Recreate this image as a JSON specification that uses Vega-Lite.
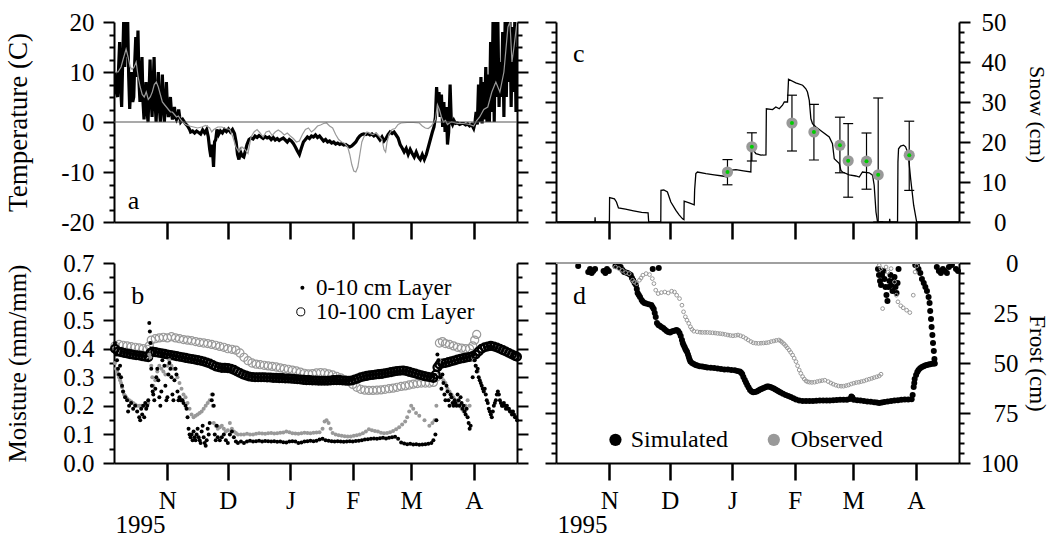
{
"$schema": "https://vega.github.io/schema/vega-lite/v6.json",
"background": "white",
"padding": {"left": 3, "top": 10, "right": 14, "bottom": 6},
"config": {
  "view": {"stroke": null},
  "point": {"opacity": 1},
  "tick": {"opacity": 1},
  "axis": {"grid": false, "domainColor": "black", "domainWidth": 2, "tickColor": "black", "tickWidth": 2,
    "labelFont": "Liberation Serif", "labelFontSize": 25, "labelColor": "black",
    "titleFont": "Liberation Serif", "titleFontWeight": "normal", "titleColor": "black",
    "labelOverlap": false, "labelFlush": false, "labelBound": false}
},
"datasets": {
"tempSim": [
{"d":5,"v":10},{"d":5.6,"v":6},{"d":6.3,"v":5},{"d":6.8,"v":11},{"d":7.3,"v":16},{"d":7.8,"v":7},{"d":8.3,"v":3},{"d":8.8,"v":12},{"d":9.3,"v":20},{"d":9.8,"v":11},
{"d":10.3,"v":20},{"d":10.8,"v":13},{"d":11.3,"v":20},{"d":11.8,"v":9},{"d":12.3,"v":2.6},{"d":12.8,"v":7},{"d":13.3,"v":10},{"d":13.8,"v":4},{"d":14.3,"v":5},{"d":14.8,"v":12},
{"d":15.3,"v":17},{"d":15.8,"v":9},{"d":16.4,"v":18.3},{"d":16.9,"v":8},{"d":17.4,"v":4},{"d":17.9,"v":9},{"d":18.4,"v":13},{"d":18.9,"v":4},{"d":19.4,"v":0.5},{"d":19.9,"v":5},
{"d":20.4,"v":8},{"d":20.9,"v":2},{"d":21.4,"v":0},{"d":21.9,"v":6},{"d":22.4,"v":12.5},{"d":22.9,"v":5},{"d":23.4,"v":1},{"d":23.9,"v":7},{"d":24.4,"v":13},{"d":24.9,"v":4},
{"d":25.4,"v":0},{"d":25.9,"v":5},{"d":26.5,"v":10},{"d":27,"v":3},{"d":27.5,"v":0},{"d":28,"v":4},{"d":28.5,"v":9.5},{"d":29,"v":3},{"d":29.5,"v":0},{"d":30,"v":4},
{"d":30.5,"v":8},{"d":31,"v":3},{"d":31.5,"v":1},{"d":32,"v":2.5},{"d":32.5,"v":5},{"d":33,"v":2},{"d":33.5,"v":0.5},{"d":34,"v":1.5},{"d":34.5,"v":3},{"d":35,"v":1},
{"d":35.5,"v":0.5},{"d":36,"v":1},{"d":36.6,"v":2.5},{"d":37.1,"v":1},{"d":37.6,"v":0},{"d":38.6,"v":0.5},{"d":39.9,"v":-0.3},{"d":41,"v":-0.8},{"d":42,"v":-1.5},{"d":42.5,"v":-2},
{"d":43.5,"v":-1.8},{"d":44.5,"v":-2.2},{"d":45.5,"v":-1.8},{"d":46.5,"v":-2.1},{"d":47.5,"v":-2.4},{"d":48.5,"v":-1.6},{"d":49.5,"v":-2.2},{"d":50.5,"v":-1.5},{"d":51.3,"v":-3},{"d":52,"v":-5.5},
{"d":52.6,"v":-7},{"d":53.2,"v":-4.5},{"d":53.9,"v":-9},{"d":54.4,"v":-4},{"d":55,"v":-3.5},{"d":55.6,"v":-1.5},{"d":56.4,"v":-2.5},{"d":57.3,"v":-1.8},{"d":58.3,"v":-2.2},{"d":59.3,"v":-1.5},
{"d":60.3,"v":-1.9},{"d":61.3,"v":-1.4},{"d":62.3,"v":-2},{"d":63.3,"v":-1.5},{"d":64.3,"v":-2.3},{"d":65.1,"v":-4},{"d":65.8,"v":-6.5},{"d":66.5,"v":-7.5},{"d":67.3,"v":-6},{"d":68.1,"v":-6.8},
{"d":68.9,"v":-7},{"d":69.7,"v":-5.8},{"d":70.5,"v":-4.5},{"d":71.5,"v":-3.5},{"d":72.5,"v":-3.2},{"d":73.5,"v":-3.4},{"d":74.5,"v":-2.8},{"d":75.5,"v":-3.1},{"d":76.5,"v":-2.7},{"d":77.5,"v":-3},
{"d":78.5,"v":-3.3},{"d":79.5,"v":-2.9},{"d":80.5,"v":-3.2},{"d":81.5,"v":-3},{"d":82.5,"v":-3.5},{"d":83.5,"v":-3.1},{"d":84.5,"v":-3.6},{"d":85.5,"v":-3.3},{"d":86.5,"v":-3.7},{"d":87.5,"v":-3.4},
{"d":88.5,"v":-3.2},{"d":89.5,"v":-3.6},{"d":90.5,"v":-4},{"d":91.5,"v":-3.5},{"d":92.5,"v":-3.8},{"d":93.5,"v":-4.3},{"d":94.5,"v":-5},{"d":95.5,"v":-5.8},{"d":96.5,"v":-6.5},{"d":97.5,"v":-5.2},
{"d":98.5,"v":-4},{"d":99.5,"v":-3.5},{"d":100.5,"v":-3},{"d":101.5,"v":-3.3},{"d":102.5,"v":-2.8},{"d":103.5,"v":-3},{"d":104.5,"v":-2.6},{"d":105.5,"v":-3.1},{"d":106.5,"v":-2.8},{"d":107.5,"v":-3.3},
{"d":108.5,"v":-3.8},{"d":109.5,"v":-3.5},{"d":110.5,"v":-4},{"d":111.5,"v":-3.8},{"d":112.5,"v":-4.2},{"d":113.5,"v":-4},{"d":114.5,"v":-4.4},{"d":115.5,"v":-4.2},{"d":116.5,"v":-4.5},{"d":117.5,"v":-4.3},
{"d":118.5,"v":-4.6},{"d":119.5,"v":-4.5},{"d":120.5,"v":-4.8},{"d":121.5,"v":-5},{"d":122.5,"v":-4.8},{"d":123.5,"v":-4.4},{"d":124.5,"v":-4},{"d":125.5,"v":-3.3},{"d":126.5,"v":-2.8},{"d":127.5,"v":-2.5},
{"d":128.5,"v":-2.4},{"d":129.5,"v":-2.5},{"d":130.5,"v":-2.3},{"d":131.5,"v":-2.6},{"d":132.5,"v":-2.4},{"d":133.5,"v":-2.8},{"d":134.5,"v":-2.5},{"d":135.5,"v":-3},{"d":136.5,"v":-3.6},{"d":137.5,"v":-3},
{"d":138.5,"v":-3.8},{"d":139.5,"v":-3.3},{"d":140.5,"v":-2.5},{"d":141.5,"v":-2},{"d":142.5,"v":-2.3},{"d":143.5,"v":-2},{"d":144.5,"v":-2.6},{"d":145.5,"v":-3.2},{"d":146.5,"v":-4.5},{"d":147.5,"v":-5.2},
{"d":148.5,"v":-6},{"d":149.5,"v":-5.3},{"d":150.5,"v":-6.5},{"d":151.5,"v":-5.5},{"d":152.5,"v":-6.3},{"d":153.5,"v":-7},{"d":154.5,"v":-6},{"d":155.5,"v":-7},{"d":156.5,"v":-7.5},{"d":157.5,"v":-6.5},
{"d":158.5,"v":-7.5},{"d":159.5,"v":-6.5},{"d":160.5,"v":-5},{"d":161.5,"v":-3.5},{"d":162.5,"v":-2},{"d":163.3,"v":-1},{"d":164,"v":1},{"d":164.6,"v":7},{"d":165.2,"v":3},{"d":165.8,"v":6},
{"d":166.4,"v":1},{"d":167,"v":5.5},{"d":167.6,"v":-1},{"d":168.2,"v":4},{"d":168.8,"v":-2},{"d":169.4,"v":3},{"d":170,"v":-4.5},{"d":170.6,"v":-2},{"d":171.3,"v":7.5},{"d":171.9,"v":0},
{"d":172.5,"v":-0.5},{"d":173.2,"v":0.3},{"d":174,"v":-0.3},{"d":175,"v":-0.2},{"d":176,"v":-0.5},{"d":177,"v":-0.3},{"d":178,"v":-0.3},{"d":179,"v":-0.6},{"d":180,"v":-0.4},{"d":181,"v":-0.8},
{"d":182,"v":-0.5},{"d":183,"v":-1.3},{"d":183.6,"v":-0.3},{"d":184.2,"v":2},{"d":184.8,"v":-0.5},{"d":185.4,"v":7.5},{"d":186,"v":0},{"d":186.6,"v":9},{"d":187.2,"v":-0.3},{"d":187.8,"v":8},
{"d":188.4,"v":0.5},{"d":189,"v":11},{"d":189.6,"v":0},{"d":190.2,"v":9.5},{"d":190.8,"v":0},{"d":191.4,"v":16},{"d":192,"v":2},{"d":192.6,"v":20},{"d":193.2,"v":0},{"d":193.8,"v":20},
{"d":194.4,"v":5},{"d":195,"v":20},{"d":195.6,"v":3},{"d":196.2,"v":12},{"d":196.8,"v":5},{"d":197.4,"v":18},{"d":198,"v":1},{"d":198.6,"v":20},{"d":199.2,"v":5},{"d":199.8,"v":20},
{"d":200.4,"v":8},{"d":201,"v":20},{"d":201.6,"v":3},{"d":202.2,"v":19},{"d":202.8,"v":6},{"d":203.4,"v":20},{"d":204,"v":2},{"d":204.5,"v":15}
],
"tempObs": [
{"d":5,"v":10},{"d":6.5,"v":10},{"d":8,"v":11},{"d":9,"v":12.5},{"d":10.5,"v":14.6},{"d":11.5,"v":13},{"d":12.5,"v":11},{"d":13.5,"v":10.5},{"d":14.5,"v":11},{"d":15.5,"v":12},
{"d":16.5,"v":9},{"d":17.5,"v":7},{"d":18.5,"v":5.5},{"d":19.5,"v":5},{"d":20.5,"v":6},{"d":21.5,"v":4.5},{"d":22.5,"v":5},{"d":23.5,"v":6},{"d":24.5,"v":7.5},{"d":25.5,"v":8},
{"d":26.5,"v":7},{"d":27.5,"v":5.5},{"d":28.5,"v":4},{"d":29.5,"v":3.5},{"d":30.5,"v":3},{"d":31.5,"v":2.5},{"d":32.5,"v":2},{"d":33.5,"v":2},{"d":34.5,"v":1.5},{"d":35.5,"v":1},
{"d":36.5,"v":1.2},{"d":37.5,"v":0.5},{"d":38.5,"v":0},{"d":40,"v":-0.5},{"d":42,"v":-0.8},{"d":44,"v":-1},{"d":46,"v":-1.2},{"d":48,"v":-1},{"d":50,"v":-0.7},{"d":52,"v":-1.2},
{"d":53,"v":-2},{"d":54,"v":-1.5},{"d":56,"v":-1},{"d":58,"v":-1},{"d":60,"v":-1.3},{"d":62,"v":-1.5},{"d":63.5,"v":-3},{"d":65,"v":-5},{"d":66.5,"v":-6},{"d":68,"v":-5},
{"d":69.5,"v":-5.5},{"d":71,"v":-6.3},{"d":72.5,"v":-3},{"d":74,"v":-2},{"d":75.5,"v":-1.5},{"d":77,"v":-2.2},{"d":78.5,"v":-3},{"d":80,"v":-2},{"d":81.5,"v":-1.8},{"d":83,"v":-2.7},
{"d":84.5,"v":-2},{"d":86,"v":-1.6},{"d":87.5,"v":-2},{"d":89,"v":-2.6},{"d":90.5,"v":-2.2},{"d":92,"v":-2.8},{"d":93.5,"v":-3.3},{"d":95,"v":-4},{"d":96.5,"v":-3.8},{"d":98,"v":-2.5},
{"d":99.5,"v":-1.5},{"d":101,"v":-1.2},{"d":102.5,"v":-2},{"d":104,"v":-1.5},{"d":105.5,"v":-0.8},{"d":107,"v":-0.6},{"d":108.5,"v":-0.3},{"d":110,"v":-0.2},{"d":111.5,"v":-0.8},{"d":113,"v":-1.2},
{"d":114.5,"v":-2.5},{"d":116,"v":-3.5},{"d":117.5,"v":-4},{"d":119,"v":-4.3},{"d":120.5,"v":-5},{"d":121.5,"v":-6.5},{"d":122.5,"v":-8.5},{"d":123.5,"v":-9.8},{"d":124.5,"v":-10},{"d":125.5,"v":-9},
{"d":126.5,"v":-6.5},{"d":127.5,"v":-4},{"d":128.5,"v":-3},{"d":130,"v":-2},{"d":131.5,"v":-2.3},{"d":133,"v":-2.5},{"d":134.5,"v":-2.2},{"d":136,"v":-2.8},{"d":137.5,"v":-3.5},{"d":138.5,"v":-5.5},
{"d":139.3,"v":-6},{"d":140,"v":-4},{"d":141,"v":-2.5},{"d":142.5,"v":-1.5},{"d":144,"v":-1.3},{"d":145.5,"v":-0.5},{"d":147,"v":-0.2},{"d":150,"v":-0.1},{"d":153,"v":-0.1},{"d":156,"v":-0.2},
{"d":157.5,"v":-0.8},{"d":159,"v":-1.2},{"d":160.5,"v":-1.3},{"d":162,"v":-0.8},{"d":163,"v":-0.3},{"d":164,"v":0.5},{"d":165,"v":3.5},{"d":166,"v":2.5},{"d":167,"v":1},{"d":168,"v":0},
{"d":169,"v":0.3},{"d":170,"v":-0.5},{"d":171,"v":-0.2},{"d":172,"v":0},{"d":175,"v":-0.3},{"d":178,"v":-0.3},{"d":181,"v":-0.5},{"d":183,"v":-0.8},{"d":184.5,"v":0.3},{"d":186,"v":1},
{"d":188,"v":2.5},{"d":190,"v":3},{"d":192,"v":6},{"d":194,"v":8},{"d":196,"v":6},{"d":198,"v":10},{"d":200,"v":19},{"d":201,"v":20},{"d":202,"v":12},{"d":203,"v":15},{"d":204.5,"v":20}
],
"snow": [
{"d":5,"v":0},{"d":23.8,"v":0},{"d":23.9,"v":1.2},{"d":24,"v":0},{"d":31,"v":0},{"d":31.1,"v":6.1},{"d":33.5,"v":5.8},{"d":34.5,"v":5},{"d":35.5,"v":3.5},{"d":39,"v":3.2},
{"d":43,"v":2.8},{"d":47,"v":2.4},{"d":50.2,"v":2.3},{"d":50.5,"v":0},{"d":56.5,"v":0},{"d":56.6,"v":7.9},{"d":58,"v":8},{"d":59.8,"v":7.5},{"d":61.5,"v":5},{"d":64,"v":2.9},
{"d":65.6,"v":1.8},{"d":67.3,"v":0.8},{"d":68,"v":0.6},{"d":68.1,"v":5.2},{"d":70.6,"v":4.8},{"d":73.1,"v":4.3},{"d":73.3,"v":8},{"d":73.9,"v":12.1},{"d":74.7,"v":12.5},{"d":78.9,"v":12.1},
{"d":83,"v":11.8},{"d":87.1,"v":11.5},{"d":89.6,"v":11.25},{"d":90.5,"v":12.9},{"d":93.8,"v":13.1},{"d":97.5,"v":12.8},{"d":101.2,"v":12.5},{"d":101.4,"v":18.75},{"d":103.7,"v":17.1},{"d":106.2,"v":16.7},
{"d":108.7,"v":16.8},{"d":108.9,"v":28.3},{"d":112,"v":28.1},{"d":113.6,"v":28.75},{"d":115.3,"v":28.3},{"d":116.9,"v":29.2},{"d":117.8,"v":30},{"d":119.4,"v":30},{"d":119.9,"v":35.7},{"d":123.5,"v":34.8},
{"d":126.9,"v":34.2},{"d":128.5,"v":33.3},{"d":129.3,"v":32.5},{"d":130.2,"v":30.4},{"d":131,"v":25.8},{"d":131.8,"v":24.6},{"d":133.5,"v":23.75},{"d":136.8,"v":22.5},{"d":140.1,"v":21.25},{"d":141.7,"v":19.6},
{"d":142.6,"v":15.8},{"d":145.1,"v":14.6},{"d":145.9,"v":12.9},{"d":146.7,"v":12.5},{"d":150,"v":11.8},{"d":153.3,"v":11.5},{"d":155,"v":11.25},{"d":156.6,"v":12.5},{"d":159.9,"v":12.3},{"d":161.6,"v":11.7},
{"d":162.4,"v":9.2},{"d":163.3,"v":2.5},{"d":164.1,"v":0},{"d":170,"v":0},{"d":170.1,"v":0.8},{"d":170.3,"v":0},{"d":174,"v":0},{"d":174.2,"v":15},{"d":174.5,"v":18.3},{"d":175.5,"v":19},
{"d":177,"v":19.2},{"d":178,"v":18.8},{"d":179.3,"v":17},{"d":180.5,"v":10.8},{"d":182,"v":4.2},{"d":183.5,"v":0},{"d":204.5,"v":0}
],
"snowObs": [
{"d":89.6,"v":12.5,"lo":9.3,"hi":15.6},{"d":101.7,"v":18.8,"lo":15.25,"hi":22.3},{"d":121.6,"v":24.75,"lo":17.75,"hi":31.7},
{"d":132.5,"v":22.5,"lo":15.5,"hi":29.4},{"d":145.4,"v":19.2,"lo":12.3,"hi":26.2},{"d":149.5,"v":15.3,"lo":6.2,"hi":24.6},
{"d":158.6,"v":15.2,"lo":8.2,"hi":22.25},{"d":164.4,"v":11.8,"lo":0,"hi":31},{"d":179.8,"v":16.7,"lo":7.9,"hi":25.2}
],
"deepObs": [
{"d":5,"v":0.41},{"d":7,"v":0.415},{"d":9,"v":0.412},{"d":11,"v":0.41},{"d":13,"v":0.407},{"d":15,"v":0.405},{"d":17,"v":0.403},{"d":19,"v":0.4},{"d":21,"v":0.398},{"d":22,"v":0.41},
{"d":23,"v":0.43},{"d":25,"v":0.435},{"d":27,"v":0.438},{"d":29,"v":0.44},{"d":31,"v":0.438},{"d":33,"v":0.442},{"d":35,"v":0.438},{"d":37,"v":0.435},{"d":39,"v":0.432},{"d":41,"v":0.43},
{"d":43,"v":0.428},{"d":45,"v":0.425},{"d":47,"v":0.422},{"d":49,"v":0.42},{"d":51,"v":0.418},{"d":53,"v":0.415},{"d":55,"v":0.412},{"d":57,"v":0.408},{"d":59,"v":0.405},{"d":61,"v":0.4},
{"d":63,"v":0.398},{"d":65,"v":0.395},{"d":67,"v":0.385},{"d":69,"v":0.37},{"d":71,"v":0.358},{"d":73,"v":0.35},{"d":75,"v":0.346},{"d":77,"v":0.344},{"d":79,"v":0.342},{"d":81,"v":0.34},
{"d":83,"v":0.338},{"d":85,"v":0.336},{"d":87,"v":0.333},{"d":89,"v":0.33},{"d":91,"v":0.328},{"d":93,"v":0.325},{"d":95,"v":0.322},{"d":97,"v":0.318},{"d":99,"v":0.314},{"d":101,"v":0.312},
{"d":103,"v":0.313},{"d":105,"v":0.315},{"d":107,"v":0.316},{"d":109,"v":0.315},{"d":111,"v":0.312},{"d":113,"v":0.308},{"d":115,"v":0.303},{"d":117,"v":0.298},{"d":119,"v":0.292},{"d":121,"v":0.285},
{"d":123,"v":0.275},{"d":125,"v":0.265},{"d":127,"v":0.258},{"d":129,"v":0.255},{"d":131,"v":0.254},{"d":133,"v":0.254},{"d":135,"v":0.255},{"d":137,"v":0.256},{"d":139,"v":0.258},{"d":141,"v":0.26},
{"d":143,"v":0.262},{"d":145,"v":0.265},{"d":147,"v":0.268},{"d":149,"v":0.27},{"d":151,"v":0.273},{"d":153,"v":0.276},{"d":155,"v":0.278},{"d":157,"v":0.28},{"d":159,"v":0.28},{"d":161,"v":0.28},
{"d":163,"v":0.282},{"d":164.5,"v":0.3},{"d":166,"v":0.42},{"d":167.5,"v":0.425},{"d":169,"v":0.418},{"d":171,"v":0.415},{"d":173,"v":0.41},{"d":175,"v":0.405},{"d":177,"v":0.402},{"d":179,"v":0.4},
{"d":181,"v":0.4},{"d":182.5,"v":0.41},{"d":183.5,"v":0.43},{"d":184.5,"v":0.45}
],
"deepSim": [
{"d":5,"v":0.4},{"d":6.5,"v":0.39},{"d":8,"v":0.388},{"d":9.5,"v":0.385},{"d":11,"v":0.383},{"d":12.5,"v":0.381},{"d":14,"v":0.379},{"d":15.5,"v":0.377},{"d":17,"v":0.376},{"d":18.5,"v":0.374},
{"d":20,"v":0.372},{"d":21.5,"v":0.37},{"d":22.5,"v":0.385},{"d":23.5,"v":0.39},{"d":25,"v":0.388},{"d":26.5,"v":0.386},{"d":28,"v":0.384},{"d":29.5,"v":0.382},{"d":31,"v":0.38},{"d":32.5,"v":0.378},
{"d":34,"v":0.376},{"d":35.5,"v":0.374},{"d":37,"v":0.372},{"d":38.5,"v":0.37},{"d":40,"v":0.368},{"d":41.5,"v":0.366},{"d":43,"v":0.364},{"d":44.5,"v":0.362},{"d":46,"v":0.36},{"d":47.5,"v":0.358},
{"d":49,"v":0.355},{"d":50.5,"v":0.352},{"d":52,"v":0.348},{"d":53.5,"v":0.343},{"d":55,"v":0.338},{"d":56.5,"v":0.335},{"d":58,"v":0.333},{"d":59.5,"v":0.333},{"d":61,"v":0.332},{"d":62.5,"v":0.33},
{"d":64,"v":0.326},{"d":65.5,"v":0.32},{"d":67,"v":0.315},{"d":68.5,"v":0.31},{"d":70,"v":0.306},{"d":71.5,"v":0.303},{"d":73,"v":0.301},{"d":74.5,"v":0.3},{"d":76,"v":0.3},{"d":77.5,"v":0.3},
{"d":79,"v":0.3},{"d":80.5,"v":0.299},{"d":82,"v":0.299},{"d":83.5,"v":0.298},{"d":85,"v":0.298},{"d":86.5,"v":0.297},{"d":88,"v":0.297},{"d":89.5,"v":0.296},{"d":91,"v":0.296},{"d":92.5,"v":0.295},
{"d":94,"v":0.294},{"d":95.5,"v":0.293},{"d":97,"v":0.292},{"d":98.5,"v":0.291},{"d":100,"v":0.29},{"d":101.5,"v":0.29},{"d":103,"v":0.289},{"d":104.5,"v":0.289},{"d":106,"v":0.288},{"d":107.5,"v":0.288},
{"d":109,"v":0.288},{"d":110.5,"v":0.288},{"d":112,"v":0.289},{"d":113.5,"v":0.29},{"d":115,"v":0.29},{"d":116.5,"v":0.29},{"d":118,"v":0.289},{"d":119.5,"v":0.288},{"d":121,"v":0.288},{"d":122.5,"v":0.289},
{"d":124,"v":0.292},{"d":125.5,"v":0.296},{"d":127,"v":0.3},{"d":128.5,"v":0.303},{"d":130,"v":0.305},{"d":131.5,"v":0.307},{"d":133,"v":0.308},{"d":134.5,"v":0.31},{"d":136,"v":0.311},{"d":137.5,"v":0.312},
{"d":139,"v":0.314},{"d":140.5,"v":0.316},{"d":142,"v":0.318},{"d":143.5,"v":0.32},{"d":145,"v":0.322},{"d":146.5,"v":0.323},{"d":148,"v":0.324},{"d":149.5,"v":0.322},{"d":151,"v":0.319},{"d":152.5,"v":0.316},
{"d":154,"v":0.313},{"d":155.5,"v":0.31},{"d":157,"v":0.307},{"d":158.5,"v":0.304},{"d":160,"v":0.302},{"d":161.5,"v":0.3},{"d":163,"v":0.298},{"d":164.2,"v":0.31},{"d":165,"v":0.335},{"d":166,"v":0.345},
{"d":167.5,"v":0.348},{"d":169,"v":0.35},{"d":170.5,"v":0.353},{"d":172,"v":0.356},{"d":173.5,"v":0.359},{"d":175,"v":0.362},{"d":176.5,"v":0.365},{"d":178,"v":0.367},{"d":179.5,"v":0.369},{"d":181,"v":0.371},
{"d":182.5,"v":0.374},{"d":184,"v":0.38},{"d":185.5,"v":0.39},{"d":187,"v":0.4},{"d":188.5,"v":0.405},{"d":190,"v":0.408},{"d":191.5,"v":0.41},{"d":193,"v":0.408},{"d":194.5,"v":0.404},{"d":196,"v":0.4},
{"d":197.5,"v":0.395},{"d":199,"v":0.39},{"d":200.5,"v":0.385},{"d":202,"v":0.38},{"d":203.5,"v":0.375},{"d":204.5,"v":0.372}
],
"topObs": [
{"d":5,"v":0.35},{"d":5.5,"v":0.33},{"d":6,"v":0.32},{"d":6.5,"v":0.31},{"d":7,"v":0.3},{"d":7.5,"v":0.29},{"d":8,"v":0.28},{"d":8.5,"v":0.265},{"d":9,"v":0.25},{"d":9.5,"v":0.24},
{"d":10,"v":0.235},{"d":10.5,"v":0.23},{"d":11,"v":0.225},{"d":12,"v":0.22},{"d":13,"v":0.215},{"d":14,"v":0.21},{"d":15,"v":0.205},{"d":16,"v":0.2},{"d":17,"v":0.2},{"d":18,"v":0.2},
{"d":19,"v":0.2},{"d":20,"v":0.2},{"d":21,"v":0.205},{"d":21.5,"v":0.21},{"d":22,"v":0.38},{"d":22.5,"v":0.37},{"d":23,"v":0.34},{"d":23.5,"v":0.3},{"d":24,"v":0.27},{"d":25,"v":0.29},
{"d":26,"v":0.32},{"d":27,"v":0.34},{"d":28,"v":0.33},{"d":29,"v":0.32},{"d":30,"v":0.31},{"d":31,"v":0.34},{"d":32,"v":0.36},{"d":33,"v":0.34},{"d":34,"v":0.33},{"d":35,"v":0.33},
{"d":36,"v":0.3},{"d":37,"v":0.28},{"d":38,"v":0.26},{"d":39,"v":0.24},{"d":40,"v":0.23},{"d":41,"v":0.21},{"d":42,"v":0.19},{"d":43,"v":0.17},{"d":44,"v":0.16},{"d":45,"v":0.165},
{"d":46,"v":0.17},{"d":47,"v":0.175},{"d":48,"v":0.18},{"d":49,"v":0.19},{"d":50,"v":0.2},{"d":51,"v":0.21},{"d":52,"v":0.22},{"d":53,"v":0.24},{"d":53.5,"v":0.2},{"d":54,"v":0.14},
{"d":55,"v":0.13},{"d":56,"v":0.12},{"d":57,"v":0.125},{"d":58,"v":0.13},{"d":59,"v":0.12},{"d":60,"v":0.11},{"d":61,"v":0.115},{"d":62,"v":0.14},{"d":63,"v":0.12},{"d":64,"v":0.11},
{"d":65,"v":0.105},{"d":66,"v":0.1},{"d":67.5,"v":0.1},{"d":69,"v":0.1},{"d":70.5,"v":0.102},{"d":72,"v":0.1},{"d":73.5,"v":0.1},{"d":75,"v":0.102},{"d":76.5,"v":0.104},{"d":78,"v":0.103},
{"d":79.5,"v":0.102},{"d":81,"v":0.104},{"d":82.5,"v":0.105},{"d":84,"v":0.103},{"d":85.5,"v":0.104},{"d":87,"v":0.106},{"d":88.5,"v":0.107},{"d":90,"v":0.11},{"d":91.5,"v":0.108},{"d":93,"v":0.104},
{"d":94.5,"v":0.103},{"d":96,"v":0.102},{"d":97.5,"v":0.104},{"d":99,"v":0.106},{"d":100.5,"v":0.105},{"d":102,"v":0.104},{"d":103.5,"v":0.106},{"d":105,"v":0.107},{"d":106.5,"v":0.108},{"d":108,"v":0.12},
{"d":109,"v":0.145},{"d":110,"v":0.15},{"d":111,"v":0.14},{"d":112,"v":0.12},{"d":113,"v":0.105},{"d":114.5,"v":0.1},{"d":116,"v":0.097},{"d":117.5,"v":0.095},{"d":119,"v":0.094},{"d":120.5,"v":0.093},
{"d":122,"v":0.093},{"d":123.5,"v":0.095},{"d":125,"v":0.097},{"d":126.5,"v":0.1},{"d":128,"v":0.104},{"d":129.5,"v":0.11},{"d":131,"v":0.118},{"d":132.5,"v":0.115},{"d":134,"v":0.112},{"d":135.5,"v":0.11},
{"d":137,"v":0.106},{"d":138.5,"v":0.104},{"d":140,"v":0.105},{"d":141.5,"v":0.108},{"d":143,"v":0.112},{"d":144.5,"v":0.118},{"d":146,"v":0.125},{"d":147.5,"v":0.135},{"d":149,"v":0.145},{"d":150,"v":0.16},
{"d":151,"v":0.18},{"d":152,"v":0.2},{"d":153,"v":0.19},{"d":154.4,"v":0.175},{"d":156,"v":0.165},{"d":158.6,"v":0.15},{"d":161,"v":0.13},{"d":162.5,"v":0.14},{"d":163.6,"v":0.15},{"d":164.5,"v":0.2},
{"d":166,"v":0.36},{"d":167,"v":0.3},{"d":168,"v":0.29},{"d":169,"v":0.28},{"d":170,"v":0.26},{"d":171,"v":0.25},{"d":172,"v":0.24},{"d":173,"v":0.23},{"d":174,"v":0.22},{"d":175,"v":0.21},
{"d":176,"v":0.2},{"d":177,"v":0.19},{"d":178,"v":0.18},{"d":179,"v":0.2},{"d":180,"v":0.22},{"d":181,"v":0.2},{"d":183,"v":0.36},{"d":184,"v":0.34},{"d":185,"v":0.32}
],
"topSim": [
{"d":5,"v":0.42},{"d":5.5,"v":0.38},{"d":6,"v":0.36},{"d":6.5,"v":0.33},{"d":7,"v":0.31},{"d":7.5,"v":0.34},{"d":8,"v":0.3},{"d":8.5,"v":0.27},{"d":9,"v":0.25},{"d":10,"v":0.23},
{"d":11,"v":0.22},{"d":11.5,"v":0.18},{"d":12,"v":0.2},{"d":13,"v":0.21},{"d":14,"v":0.19},{"d":15,"v":0.2},{"d":16,"v":0.18},{"d":17,"v":0.16},{"d":17.5,"v":0.15},{"d":18,"v":0.19},
{"d":18.5,"v":0.17},{"d":19,"v":0.2},{"d":19.5,"v":0.16},{"d":20,"v":0.21},{"d":20.5,"v":0.19},{"d":21,"v":0.2},{"d":21.5,"v":0.22},{"d":22,"v":0.49},{"d":22.3,"v":0.46},{"d":22.6,"v":0.42},
{"d":23,"v":0.33},{"d":23.3,"v":0.27},{"d":23.7,"v":0.25},{"d":24,"v":0.24},{"d":24.5,"v":0.22},{"d":25,"v":0.26},{"d":25.5,"v":0.3},{"d":26,"v":0.33},{"d":26.5,"v":0.29},{"d":27,"v":0.23},
{"d":27.5,"v":0.2},{"d":28,"v":0.25},{"d":28.5,"v":0.36},{"d":29,"v":0.38},{"d":29.5,"v":0.34},{"d":30,"v":0.27},{"d":30.5,"v":0.22},{"d":31,"v":0.23},{"d":31.5,"v":0.31},{"d":32,"v":0.35},
{"d":32.5,"v":0.33},{"d":33,"v":0.3},{"d":33.5,"v":0.24},{"d":34,"v":0.22},{"d":34.5,"v":0.29},{"d":35,"v":0.33},{"d":35.5,"v":0.31},{"d":36,"v":0.25},{"d":36.5,"v":0.22},{"d":37,"v":0.23},
{"d":37.5,"v":0.22},{"d":38,"v":0.22},{"d":38.5,"v":0.22},{"d":39,"v":0.21},{"d":40,"v":0.2},{"d":40.5,"v":0.19},{"d":41,"v":0.16},{"d":41.5,"v":0.12},{"d":42,"v":0.1},{"d":42.5,"v":0.09},
{"d":43,"v":0.1},{"d":43.5,"v":0.08},{"d":44,"v":0.11},{"d":44.5,"v":0.09},{"d":45,"v":0.08},{"d":45.5,"v":0.1},{"d":46,"v":0.12},{"d":46.5,"v":0.09},{"d":47,"v":0.08},{"d":47.5,"v":0.07},
{"d":48,"v":0.11},{"d":48.5,"v":0.13},{"d":49,"v":0.09},{"d":49.5,"v":0.07},{"d":50,"v":0.06},{"d":50.5,"v":0.08},{"d":51,"v":0.12},{"d":51.5,"v":0.1},{"d":52,"v":0.14},{"d":53,"v":0.22},
{"d":53.5,"v":0.24},{"d":54,"v":0.2},{"d":54.5,"v":0.1},{"d":55,"v":0.08},{"d":55.5,"v":0.13},{"d":56,"v":0.09},{"d":57,"v":0.08},{"d":58,"v":0.09},{"d":59,"v":0.1},{"d":60,"v":0.08},
{"d":61,"v":0.07},{"d":62,"v":0.1},{"d":63,"v":0.11},{"d":64,"v":0.09},{"d":65,"v":0.075},{"d":66,"v":0.07},{"d":67.5,"v":0.075},{"d":69,"v":0.07},{"d":70.5,"v":0.075},{"d":72,"v":0.078},
{"d":73.5,"v":0.075},{"d":75,"v":0.076},{"d":76.5,"v":0.078},{"d":78,"v":0.075},{"d":79.5,"v":0.077},{"d":81,"v":0.076},{"d":82.5,"v":0.075},{"d":84,"v":0.076},{"d":85.5,"v":0.074},{"d":87,"v":0.075},
{"d":88.5,"v":0.073},{"d":90,"v":0.072},{"d":91.5,"v":0.075},{"d":93,"v":0.076},{"d":94.5,"v":0.075},{"d":96,"v":0.07},{"d":97.5,"v":0.072},{"d":99,"v":0.075},{"d":100.5,"v":0.076},{"d":102,"v":0.078},
{"d":103.5,"v":0.076},{"d":105,"v":0.078},{"d":106.5,"v":0.082},{"d":108,"v":0.085},{"d":109.5,"v":0.08},{"d":111,"v":0.078},{"d":112.5,"v":0.076},{"d":114,"v":0.075},{"d":115.5,"v":0.076},{"d":117,"v":0.075},
{"d":118.5,"v":0.074},{"d":120,"v":0.075},{"d":121.5,"v":0.076},{"d":123,"v":0.075},{"d":124.5,"v":0.077},{"d":126,"v":0.078},{"d":127.5,"v":0.08},{"d":129,"v":0.082},{"d":130.5,"v":0.083},{"d":132,"v":0.085},
{"d":133.5,"v":0.086},{"d":135,"v":0.085},{"d":136.5,"v":0.087},{"d":138,"v":0.088},{"d":139.5,"v":0.086},{"d":141,"v":0.088},{"d":142.5,"v":0.09},{"d":144,"v":0.092},{"d":145.5,"v":0.085},{"d":147,"v":0.072},
{"d":148.5,"v":0.068},{"d":150,"v":0.066},{"d":151.5,"v":0.067},{"d":153,"v":0.065},{"d":154.5,"v":0.066},{"d":156,"v":0.064},{"d":157.5,"v":0.065},{"d":159,"v":0.066},{"d":160.5,"v":0.067},{"d":162,"v":0.07},
{"d":163,"v":0.08},{"d":164,"v":0.1},{"d":164.5,"v":0.15},{"d":165,"v":0.38},{"d":165.5,"v":0.36},{"d":166,"v":0.33},{"d":166.5,"v":0.3},{"d":167,"v":0.26},{"d":167.5,"v":0.31},{"d":168,"v":0.28},
{"d":168.5,"v":0.24},{"d":169,"v":0.22},{"d":169.5,"v":0.27},{"d":170,"v":0.25},{"d":170.5,"v":0.22},{"d":171,"v":0.2},{"d":171.5,"v":0.24},{"d":172,"v":0.23},{"d":172.5,"v":0.21},{"d":173,"v":0.2},
{"d":173.5,"v":0.22},{"d":174,"v":0.21},{"d":174.5,"v":0.2},{"d":175,"v":0.24},{"d":175.5,"v":0.22},{"d":176,"v":0.2},{"d":176.5,"v":0.23},{"d":177,"v":0.21},{"d":177.5,"v":0.19},{"d":178,"v":0.2},
{"d":178.5,"v":0.18},{"d":179,"v":0.17},{"d":179.5,"v":0.19},{"d":180,"v":0.16},{"d":180.5,"v":0.14},{"d":181,"v":0.12},{"d":181.5,"v":0.13},{"d":182.5,"v":0.3},{"d":183,"v":0.38},{"d":183.5,"v":0.36},
{"d":184,"v":0.34},{"d":184.5,"v":0.32},{"d":185,"v":0.33},{"d":185.5,"v":0.3},{"d":186,"v":0.29},{"d":186.5,"v":0.28},{"d":187,"v":0.27},{"d":187.5,"v":0.26},{"d":188,"v":0.25},{"d":188.5,"v":0.26},
{"d":189,"v":0.24},{"d":189.5,"v":0.22},{"d":190,"v":0.21},{"d":190.5,"v":0.19},{"d":191,"v":0.18},{"d":191.5,"v":0.17},{"d":192,"v":0.16},{"d":192.5,"v":0.18},{"d":193,"v":0.2},{"d":193.5,"v":0.21},
{"d":194,"v":0.22},{"d":194.5,"v":0.24},{"d":195,"v":0.25},{"d":195.5,"v":0.24},{"d":196,"v":0.22},{"d":196.5,"v":0.21},{"d":197,"v":0.2},{"d":197.5,"v":0.2},{"d":198,"v":0.21},{"d":198.5,"v":0.2},
{"d":199,"v":0.19},{"d":199.5,"v":0.2},{"d":200,"v":0.19},{"d":200.5,"v":0.19},{"d":201,"v":0.18},{"d":201.5,"v":0.18},{"d":202,"v":0.17},{"d":202.5,"v":0.18},{"d":203,"v":0.17},{"d":203.5,"v":0.16},
{"d":204,"v":0.16},{"d":204.5,"v":0.15}
],
"frostSim": [
{"d":15.5,"v":1.5},{"d":20.5,"v":4.5},{"d":21.4,"v":3},{"d":22.2,"v":5},{"d":23,"v":4},{"d":23.9,"v":3},{"d":28.1,"v":4},{"d":29,"v":5},{"d":29.8,"v":3},{"d":30.7,"v":4},
{"d":34,"v":1.5},{"d":35.7,"v":2},{"d":52.5,"v":3},{"d":55.5,"v":2.5},
{"d":36.6,"v":2},{"d":37.5,"v":3.5},{"d":38.3,"v":4.5},{"d":39.2,"v":4.8},{"d":40,"v":5},{"d":40.8,"v":5.5},{"d":41.6,"v":6},{"d":42.2,"v":7.5},{"d":42.8,"v":8.6},{"d":43.5,"v":10},
{"d":44.2,"v":11},{"d":44.6,"v":13},{"d":45,"v":15},{"d":45.6,"v":16},{"d":46.2,"v":17},{"d":47,"v":18.5},{"d":47.6,"v":19.4},{"d":48.4,"v":20},{"d":49.2,"v":20.3},{"d":50.5,"v":20.6},
{"d":51.8,"v":21},{"d":52.4,"v":22},{"d":53,"v":23},{"d":53.5,"v":25},{"d":54,"v":27},{"d":54.6,"v":30},{"d":55.3,"v":31},{"d":56,"v":31.4},{"d":56.8,"v":32},{"d":57.7,"v":32.5},
{"d":58.5,"v":33.3},{"d":59.4,"v":34},{"d":60.2,"v":34.5},{"d":61.1,"v":34.7},{"d":62,"v":34.3},{"d":62.8,"v":34},{"d":63.6,"v":33.7},{"d":64.4,"v":33.5},{"d":65.1,"v":34},{"d":65.8,"v":35},
{"d":66.4,"v":36.5},{"d":67,"v":38.5},{"d":67.4,"v":40},{"d":67.8,"v":41},{"d":68.3,"v":42},{"d":68.7,"v":43},{"d":69.1,"v":43.8},{"d":69.5,"v":44.4},{"d":70,"v":45.8},{"d":70.4,"v":47},
{"d":70.8,"v":48.2},{"d":71.2,"v":49.3},{"d":72,"v":50},{"d":72.9,"v":50.5},{"d":73.8,"v":51},{"d":74.6,"v":51.3},{"d":75.8,"v":51.6},{"d":77.1,"v":51.8},{"d":78.4,"v":52},{"d":79.6,"v":52.2},
{"d":81.3,"v":52.4},{"d":83,"v":52.5},{"d":84.7,"v":52.8},{"d":86.4,"v":53},{"d":88.1,"v":53.2},{"d":89.8,"v":53.3},{"d":91.5,"v":53.5},{"d":93.2,"v":53.6},{"d":94.5,"v":54},{"d":95.7,"v":54.3},
{"d":96.3,"v":54.8},{"d":96.9,"v":55.5},{"d":97.5,"v":57},{"d":98.2,"v":58.5},{"d":98.8,"v":59.8},{"d":99.4,"v":61},{"d":100.1,"v":62.3},{"d":100.8,"v":63.5},{"d":101.6,"v":64.2},{"d":102.4,"v":64.6},
{"d":103.2,"v":64.5},{"d":104.1,"v":64.3},{"d":105,"v":63.8},{"d":105.8,"v":63.3},{"d":106.7,"v":62.9},{"d":107.5,"v":62.5},{"d":108.4,"v":62.1},{"d":109.2,"v":61.8},{"d":110,"v":61.8},{"d":110.9,"v":62},
{"d":111.7,"v":62.4},{"d":112.6,"v":62.8},{"d":113.4,"v":63.3},{"d":114.3,"v":63.8},{"d":115.1,"v":64.3},{"d":116,"v":64.8},{"d":117.2,"v":65.4},{"d":118.5,"v":66},{"d":119.8,"v":66.5},{"d":121,"v":67},
{"d":122.3,"v":67.6},{"d":123.6,"v":68.2},{"d":125.2,"v":68.8},{"d":126.9,"v":69},{"d":128.6,"v":69},{"d":130.3,"v":69},{"d":132,"v":69},{"d":133.7,"v":68.9},{"d":135.4,"v":68.8},{"d":137.1,"v":68.8},
{"d":138.8,"v":68.8},{"d":140.4,"v":68.7},{"d":142.1,"v":68.6},{"d":143.8,"v":68.5},{"d":145.5,"v":68.4},{"d":147.2,"v":68.4},{"d":148.9,"v":68.4},{"d":150.3,"v":68},{"d":151.1,"v":66.8},{"d":151.6,"v":67.2},
{"d":152.3,"v":68.4},{"d":154,"v":68.6},{"d":155.6,"v":68.8},{"d":157.3,"v":69},{"d":159,"v":69.2},{"d":160.7,"v":69.4},{"d":162.4,"v":69.6},{"d":163.7,"v":69.8},{"d":164.9,"v":70},{"d":166.2,"v":69.8},
{"d":167.5,"v":69.5},{"d":169.1,"v":69.2},{"d":170.8,"v":69},{"d":172.5,"v":68.8},{"d":174.2,"v":68.6},{"d":175.9,"v":68.4},{"d":177.6,"v":68.3},{"d":179.3,"v":68.2},{"d":181,"v":68.1},{"d":181.5,"v":66},
{"d":182,"v":62},{"d":182.3,"v":60},{"d":182.5,"v":58},{"d":183.2,"v":56},{"d":183.8,"v":54.5},{"d":184.4,"v":53.5},{"d":185.2,"v":52.6},{"d":186.1,"v":52},{"d":186.9,"v":51.6},{"d":187.7,"v":51.3},
{"d":188.5,"v":51},{"d":189.4,"v":50.8},{"d":190.2,"v":50.6},{"d":191.1,"v":50.4},{"d":192,"v":50.3},{"d":192.5,"v":50.2},
{"d":183.6,"v":1},{"d":184.4,"v":3},{"d":185.3,"v":5},{"d":186.1,"v":8},{"d":187,"v":10},{"d":187.8,"v":12},{"d":188.6,"v":14},{"d":189.4,"v":17},{"d":189.9,"v":20},{"d":190.2,"v":24},
{"d":190.6,"v":28},{"d":190.9,"v":32},{"d":191.3,"v":36},{"d":191.6,"v":40},{"d":192,"v":44},{"d":192.3,"v":48},
{"d":164.3,"v":3},{"d":164.8,"v":6},{"d":165.3,"v":9},{"d":165.8,"v":11},{"d":166.3,"v":6},{"d":167,"v":4},{"d":167.5,"v":8},{"d":168,"v":12},{"d":168.5,"v":16},{"d":169,"v":19},
{"d":169.5,"v":12},{"d":170,"v":9},{"d":170.5,"v":6},{"d":171,"v":11},{"d":171.5,"v":14},{"d":172,"v":9},{"d":172.5,"v":7},{"d":173,"v":12},{"d":173.5,"v":15},{"d":174,"v":10},
{"d":174.5,"v":3},{"d":182.8,"v":1},{"d":193.5,"v":2},{"d":194.5,"v":4},{"d":195.5,"v":5},{"d":196.5,"v":3},{"d":197.5,"v":4},{"d":198.5,"v":5},{"d":199.5,"v":2},{"d":201,"v":1},
{"d":203,"v":3},{"d":204,"v":4}
],
"frostObs": [
{"d":34,"v":2},{"d":35.7,"v":2.8},{"d":37.4,"v":3.7},{"d":39.1,"v":4.8},{"d":40.8,"v":5.3},{"d":42.5,"v":8.6},{"d":43.3,"v":9.5},{"d":44.5,"v":10.3},{"d":45.9,"v":8.6},{"d":46.7,"v":7.5},
{"d":47.6,"v":6.1},{"d":49.2,"v":5.3},{"d":50.9,"v":5.8},{"d":52.3,"v":7.8},{"d":53.1,"v":10.3},{"d":54,"v":13.6},{"d":55.2,"v":15.3},{"d":56.8,"v":14.8},{"d":58.5,"v":14.5},{"d":60.2,"v":15},
{"d":61.9,"v":14.1},{"d":63.3,"v":14.5},{"d":64.4,"v":16.1},{"d":65.8,"v":17.8},{"d":67,"v":21.1},{"d":67.8,"v":24.4},{"d":68.7,"v":26.9},{"d":69.5,"v":28.6},{"d":70.4,"v":30.2},{"d":71.2,"v":31.9},
{"d":72,"v":33.2},{"d":72.9,"v":34.1},{"d":74.6,"v":34.4},{"d":76,"v":34.6},{"d":77.1,"v":34.7},{"d":78.4,"v":34.7},{"d":79.6,"v":34.7},{"d":80.9,"v":34.8},{"d":82.2,"v":34.9},{"d":83.5,"v":35},
{"d":84.7,"v":35.2},{"d":86,"v":35.3},{"d":87.2,"v":35.5},{"d":88.5,"v":35.7},{"d":89.8,"v":36},{"d":91,"v":36.2},{"d":92.3,"v":36.4},{"d":93.6,"v":36.2},{"d":94.8,"v":36},{"d":96.1,"v":36.4},
{"d":97.4,"v":36.9},{"d":98.7,"v":37.7},{"d":99.9,"v":38.5},{"d":101.2,"v":39.3},{"d":102.4,"v":39.9},{"d":103.7,"v":40.1},{"d":105,"v":40.2},{"d":106.3,"v":40.1},{"d":107.5,"v":40},{"d":108.8,"v":39.9},
{"d":110,"v":39.7},{"d":111.3,"v":39.3},{"d":112.6,"v":39},{"d":113.8,"v":38.7},{"d":115.1,"v":38.5},{"d":116,"v":39},{"d":116.8,"v":39.7},{"d":117.7,"v":40.5},{"d":118.5,"v":41.4},{"d":119.3,"v":42.4},
{"d":120.2,"v":43.5},{"d":121,"v":44.7},{"d":121.9,"v":46},{"d":122.7,"v":47.6},{"d":123.6,"v":49.3},{"d":124.4,"v":51.4},{"d":125.2,"v":53.5},{"d":126,"v":55.2},{"d":126.9,"v":56.8},{"d":127.7,"v":58},
{"d":128.6,"v":59},{"d":129.4,"v":59.4},{"d":130.3,"v":59.6},{"d":131.5,"v":59.7},{"d":132.8,"v":59.6},{"d":134.1,"v":59.3},{"d":135.4,"v":59},{"d":136.6,"v":58.8},{"d":137.9,"v":58.6},{"d":139.6,"v":59.3},
{"d":140.9,"v":60},{"d":142.1,"v":60.6},{"d":143.4,"v":61.1},{"d":144.7,"v":61.5},{"d":146,"v":61.6},{"d":147.2,"v":61.6},{"d":148.5,"v":61.3},{"d":149.7,"v":61},{"d":151,"v":60.5},{"d":152.3,"v":60.1},
{"d":153.5,"v":59.8},{"d":154.8,"v":59.6},{"d":156,"v":59.3},{"d":157.3,"v":59},{"d":158.6,"v":58.5},{"d":159.9,"v":58.1},{"d":161.2,"v":57.7},{"d":162.4,"v":57.3},{"d":163.7,"v":56.9},{"d":164.9,"v":56.5},
{"d":165.8,"v":55.6},
{"d":164.9,"v":1.2},{"d":165.8,"v":2.8},{"d":166.6,"v":22.8},{"d":168.3,"v":2},{"d":169.2,"v":4.5},{"d":170.8,"v":2.8},{"d":172.5,"v":9.5},{"d":173.4,"v":16.1},{"d":174.2,"v":19.4},{"d":175.6,"v":21.4},
{"d":176.8,"v":22.4},{"d":178.5,"v":23.6},{"d":180.1,"v":24.8},{"d":181.8,"v":16.1},{"d":182.7,"v":4.5},{"d":183.5,"v":1.5}
]
},
"columns": 2,
"spacing": {"row": 41, "column": 39},
"bounds": "flush",
"concat": [
{
  "width": 403, "height": 200,
  "resolve": {"axis": {"x": "independent", "y": "independent"}},
  "layer": [
    {"data": {"name": "tempSim"}, "mark": {"type": "line", "color": "black", "strokeWidth": 3.2, "clip": true},
     "encoding": {
       "x": {"field": "d", "type": "quantitative", "scale": {"domain": [4.5, 204.5], "nice": false, "zero": false},
             "axis": {"orient": "bottom", "values": [31, 61, 92, 123, 152, 183], "tickSize": 17, "tickWidth": 2.5, "labels": false, "title": null}},
       "y": {"field": "v", "type": "quantitative", "scale": {"domain": [-20, 20], "nice": false, "zero": false},
             "axis": {"orient": "left", "values": [-20,-17.5,-15,-12.5,-10,-7.5,-5,-2.5,0,2.5,5,7.5,10,12.5,15,17.5,20],
               "tickSize": {"condition": {"test": "datum.value % 10 === 0", "value": 11}, "value": 5},
               "labelExpr": "datum.value % 10 === 0 ? (datum.value < 0 ? '-' : '') + abs(datum.value) : ''",
               "labelPadding": 9, "title": "Temperature (C)", "titleFontSize": 27, "titleAngle": -90,
               "titleX": -88, "titleBaseline": "alphabetic", "titleAlign": "center"}}
     }},
    {"data": {"name": "tempObs"}, "mark": {"type": "line", "color": "#9a9a9a", "strokeWidth": 1.2, "clip": true},
     "encoding": {
       "x": {"field": "d", "type": "quantitative", "axis": null},
       "y": {"field": "v", "type": "quantitative",
             "axis": {"orient": "right", "values": [-20,-17.5,-15,-12.5,-10,-7.5,-5,-2.5,0,2.5,5,7.5,10,12.5,15,17.5,20],
               "tickSize": {"condition": {"test": "datum.value % 10 === 0", "value": 11}, "value": 5},
               "labels": false, "title": null}}
     }},
    {"data": {"values": [{}]}, "mark": {"type": "rule", "color": "#555555", "strokeWidth": 1.2},
     "encoding": {"y": {"datum": 0, "type": "quantitative", "axis": null}}},
    {"data": {"values": [{}]}, "mark": {"type": "text", "font": "Liberation Serif", "fontSize": 26, "color": "black", "align": "left", "baseline": "alphabetic"},
     "encoding": {"x": {"datum": 11.3, "type": "quantitative", "axis": null}, "y": {"datum": -17.4, "type": "quantitative", "axis": null}, "text": {"value": "a"}}}
  ]
},
{
  "width": 403, "height": 200,
  "resolve": {"axis": {"x": "independent", "y": "independent"}},
  "layer": [
    {"data": {"name": "snow"}, "mark": {"type": "line", "color": "black", "strokeWidth": 1.3, "clip": true},
     "encoding": {
       "x": {"field": "d", "type": "quantitative", "scale": {"domain": [4.5, 204.5], "nice": false, "zero": false},
             "axis": {"orient": "bottom", "values": [31, 61, 92, 123, 152, 183], "tickSize": 17, "tickWidth": 2.5, "labels": false, "title": null}},
       "y": {"field": "v", "type": "quantitative", "scale": {"domain": [0, 50], "nice": false, "zero": false},
             "axis": {"orient": "left", "values": [0,2.5,5,7.5,10,12.5,15,17.5,20,22.5,25,27.5,30,32.5,35,37.5,40,42.5,45,47.5,50],
               "tickSize": {"condition": {"test": "datum.value % 10 === 0", "value": 11}, "value": 5},
               "labels": false, "title": null}}
     }},
    {"data": {"name": "snowObs"}, "mark": {"type": "rule", "color": "black", "strokeWidth": 1.2},
     "encoding": {
       "x": {"field": "d", "type": "quantitative", "axis": null},
       "y": {"field": "lo", "type": "quantitative",
             "axis": {"orient": "right", "values": [0,2.5,5,7.5,10,12.5,15,17.5,20,22.5,25,27.5,30,32.5,35,37.5,40,42.5,45,47.5,50],
               "tickSize": {"condition": {"test": "datum.value % 10 === 0", "value": 11}, "value": 5},
               "labelExpr": "datum.value % 10 === 0 ? '' + datum.value : ''",
               "labelAlign": "right", "labelPadding": 36,
               "title": "Snow (cm)", "titleFontSize": 22, "titleAngle": 90, "titleX": 70.5, "titleY": 92,
               "titleBaseline": "alphabetic", "titleAlign": "center"}},
       "y2": {"field": "hi"}
     }},
    {"data": {"name": "snowObs"}, "mark": {"type": "tick", "orient": "horizontal", "color": "black", "size": 10, "thickness": 1.2},
     "encoding": {"x": {"field": "d", "type": "quantitative", "axis": null}, "y": {"field": "lo", "type": "quantitative", "axis": null}}},
    {"data": {"name": "snowObs"}, "mark": {"type": "tick", "orient": "horizontal", "color": "black", "size": 10, "thickness": 1.2},
     "encoding": {"x": {"field": "d", "type": "quantitative", "axis": null}, "y": {"field": "hi", "type": "quantitative", "axis": null}}},
    {"data": {"name": "snowObs"}, "mark": {"type": "point", "filled": true, "color": "#999999", "size": 125},
     "encoding": {"x": {"field": "d", "type": "quantitative", "axis": null}, "y": {"field": "v", "type": "quantitative", "axis": null}}},
    {"data": {"name": "snowObs"}, "mark": {"type": "point", "filled": true, "color": "#00cc00", "size": 16},
     "encoding": {"x": {"field": "d", "type": "quantitative", "axis": null}, "y": {"field": "v", "type": "quantitative", "axis": null}}},
    {"data": {"values": [{}]}, "mark": {"type": "text", "font": "Liberation Serif", "fontSize": 26, "color": "black", "align": "left", "baseline": "alphabetic"},
     "encoding": {"x": {"datum": 12.9, "type": "quantitative", "axis": null}, "y": {"datum": 40, "type": "quantitative", "axis": null}, "text": {"value": "c"}}}
  ]
},
{
  "width": 403, "height": 200,
  "resolve": {"axis": {"x": "independent", "y": "independent"}},
  "layer": [
    {"data": {"name": "deepObs"}, "mark": {"type": "point", "filled": false, "color": "#999999", "size": 65, "strokeWidth": 1.2},
     "encoding": {
       "x": {"field": "d", "type": "quantitative", "scale": {"domain": [4.5, 204.5], "nice": false, "zero": false},
             "axis": {"orient": "bottom", "values": [31, 61, 92, 123, 152, 183], "tickSize": 17, "tickWidth": 2.5,
               "labelExpr": "datum.value == 31 ? 'N' : datum.value == 61 ? 'D' : datum.value == 92 ? 'J' : datum.value == 123 ? 'F' : datum.value == 152 ? 'M' : 'A'",
               "labelPadding": 8, "labelBaseline": "top",
               "title": "1995", "titleFontSize": 25, "titleX": 1, "titleY": 69, "titleAlign": "left", "titleBaseline": "alphabetic", "titleAnchor": "start"}},
       "y": {"field": "v", "type": "quantitative", "scale": {"domain": [0, 0.7], "nice": false, "zero": false},
             "axis": {"orient": "left", "values": [0,0.05,0.1,0.15,0.2,0.25,0.3,0.35,0.4,0.45,0.5,0.55,0.6,0.65,0.7],
               "tickSize": {"condition": {"test": "abs(datum.value * 10 - round(datum.value * 10)) < 0.001", "value": 11}, "value": 5},
               "labelExpr": "abs(datum.value * 10 - round(datum.value * 10)) < 0.001 ? format(datum.value, '.1f') : ''",
               "labelPadding": 9, "title": "Moisture (mm/mm)", "titleFontSize": 25, "titleAngle": -90,
               "titleX": -89, "titleBaseline": "alphabetic", "titleAlign": "center"}}
     }},
    {"data": {"name": "deepSim"}, "mark": {"type": "point", "filled": false, "color": "black", "size": 60, "strokeWidth": 2.3},
     "encoding": {
       "x": {"field": "d", "type": "quantitative", "axis": null},
       "y": {"field": "v", "type": "quantitative",
             "axis": {"orient": "right", "values": [0,0.05,0.1,0.15,0.2,0.25,0.3,0.35,0.4,0.45,0.5,0.55,0.6,0.65,0.7],
               "tickSize": {"condition": {"test": "abs(datum.value * 10 - round(datum.value * 10)) < 0.001", "value": 11}, "value": 5},
               "labels": false, "title": null}}
     }},
    {"data": {"name": "topObs"}, "mark": {"type": "point", "filled": true, "color": "#999999", "size": 16},
     "encoding": {"x": {"field": "d", "type": "quantitative", "axis": null}, "y": {"field": "v", "type": "quantitative", "axis": null}}},
    {"data": {"name": "topSim"}, "mark": {"type": "point", "filled": true, "color": "black", "size": 16},
     "encoding": {"x": {"field": "d", "type": "quantitative", "axis": null}, "y": {"field": "v", "type": "quantitative", "axis": null}}},
    {"data": {"values": [{}]}, "mark": {"type": "point", "filled": true, "color": "black", "size": 16},
     "encoding": {"x": {"datum": 98, "type": "quantitative", "axis": null}, "y": {"datum": 0.613, "type": "quantitative", "axis": null}}},
    {"data": {"values": [{}]}, "mark": {"type": "point", "filled": false, "color": "black", "size": 65, "strokeWidth": 1},
     "encoding": {"x": {"datum": 97.2, "type": "quantitative", "axis": null}, "y": {"datum": 0.529, "type": "quantitative", "axis": null}}},
    {"data": {"values": [{}]}, "mark": {"type": "text", "font": "Liberation Serif", "fontSize": 23, "color": "black", "align": "left", "baseline": "middle"},
     "encoding": {"x": {"datum": 104.7, "type": "quantitative", "axis": null}, "y": {"datum": 0.613, "type": "quantitative", "axis": null}, "text": {"value": "0-10 cm Layer"}}},
    {"data": {"values": [{}]}, "mark": {"type": "text", "font": "Liberation Serif", "fontSize": 23, "color": "black", "align": "left", "baseline": "middle"},
     "encoding": {"x": {"datum": 104.7, "type": "quantitative", "axis": null}, "y": {"datum": 0.529, "type": "quantitative", "axis": null}, "text": {"value": "10-100 cm Layer"}}},
    {"data": {"values": [{}]}, "mark": {"type": "text", "font": "Liberation Serif", "fontSize": 26, "color": "black", "align": "left", "baseline": "alphabetic"},
     "encoding": {"x": {"datum": 13, "type": "quantitative", "axis": null}, "y": {"datum": 0.557, "type": "quantitative", "axis": null}, "text": {"value": "b"}}}
  ]
},
{
  "width": 403, "height": 200,
  "resolve": {"axis": {"x": "independent", "y": "independent"}},
  "layer": [
    {"data": {"name": "frostSim"}, "mark": {"type": "point", "filled": true, "color": "black", "size": 36},
     "encoding": {
       "x": {"field": "d", "type": "quantitative", "scale": {"domain": [4.5, 204.5], "nice": false, "zero": false},
             "axis": {"orient": "bottom", "values": [31, 61, 92, 123, 152, 183], "tickSize": 17, "tickWidth": 2.5,
               "labelExpr": "datum.value == 31 ? 'N' : datum.value == 61 ? 'D' : datum.value == 92 ? 'J' : datum.value == 123 ? 'F' : datum.value == 152 ? 'M' : 'A'",
               "labelPadding": 8, "labelBaseline": "top",
               "title": "1995", "titleFontSize": 25, "titleX": 1, "titleY": 69, "titleAlign": "left", "titleBaseline": "alphabetic", "titleAnchor": "start"}},
       "y": {"field": "v", "type": "quantitative", "scale": {"domain": [0, 100], "reverse": true, "nice": false, "zero": false},
             "axis": {"orient": "left", "values": [0,5,10,15,20,25,30,35,40,45,50,55,60,65,70,75,80,85,90,95,100],
               "tickSize": {"condition": {"test": "datum.value % 25 === 0", "value": 11}, "value": 5},
               "labels": false, "title": null}}
     }},
    {"data": {"name": "frostObs"}, "mark": {"type": "point", "filled": false, "color": "#999999", "size": 14, "strokeWidth": 1},
     "encoding": {
       "x": {"field": "d", "type": "quantitative", "axis": null},
       "y": {"field": "v", "type": "quantitative",
             "axis": {"orient": "right", "values": [0,5,10,15,20,25,30,35,40,45,50,55,60,65,70,75,80,85,90,95,100],
               "tickSize": {"condition": {"test": "datum.value % 25 === 0", "value": 11}, "value": 5},
               "labelExpr": "datum.value % 25 === 0 ? '' + datum.value : ''",
               "labelAlign": "right", "labelPadding": 48,
               "title": "Frost (cm)", "titleFontSize": 23, "titleAngle": 90, "titleX": 70,
               "titleBaseline": "alphabetic", "titleAlign": "center"}}
     }},
    {"data": {"values": [{}]}, "mark": {"type": "rule", "color": "#a0a0a0", "strokeWidth": 2},
     "encoding": {"y": {"datum": 0, "type": "quantitative", "axis": null}}},
    {"data": {"values": [{}]}, "mark": {"type": "point", "filled": true, "color": "black", "size": 150},
     "encoding": {"x": {"datum": 34, "type": "quantitative", "axis": null}, "y": {"datum": 88.4, "type": "quantitative", "axis": null}}},
    {"data": {"values": [{}]}, "mark": {"type": "text", "font": "Liberation Serif", "fontSize": 24, "color": "black", "align": "left", "baseline": "middle"},
     "encoding": {"x": {"datum": 41.6, "type": "quantitative", "axis": null}, "y": {"datum": 88.4, "type": "quantitative", "axis": null}, "text": {"value": "Simulated"}}},
    {"data": {"values": [{}]}, "mark": {"type": "point", "filled": true, "color": "#999999", "size": 150},
     "encoding": {"x": {"datum": 112.6, "type": "quantitative", "axis": null}, "y": {"datum": 88.4, "type": "quantitative", "axis": null}}},
    {"data": {"values": [{}]}, "mark": {"type": "text", "font": "Liberation Serif", "fontSize": 24, "color": "black", "align": "left", "baseline": "middle"},
     "encoding": {"x": {"datum": 121, "type": "quantitative", "axis": null}, "y": {"datum": 88.4, "type": "quantitative", "axis": null}, "text": {"value": "Observed"}}},
    {"data": {"values": [{}]}, "mark": {"type": "text", "font": "Liberation Serif", "fontSize": 26, "color": "black", "align": "left", "baseline": "alphabetic"},
     "encoding": {"x": {"datum": 12.9, "type": "quantitative", "axis": null}, "y": {"datum": 20.3, "type": "quantitative", "axis": null}, "text": {"value": "d"}}}
  ]
}
]
}
